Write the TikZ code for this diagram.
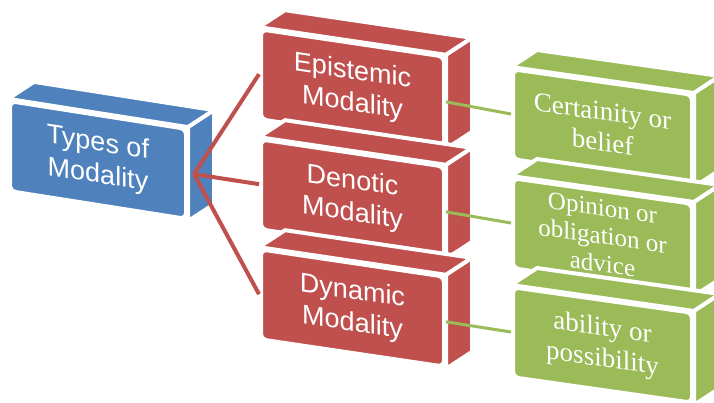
\documentclass[tikz,border=0pt]{standalone}
\usepackage{fontspec}
\setmainfont{Liberation Sans}
\newfontfamily\greenserif{Liberation Serif}
\definecolor{modblue}{RGB}{79,129,189}
\definecolor{modred}{RGB}{192,80,77}
\definecolor{modgreen}{RGB}{155,187,89}
\begin{document}
\begin{tikzpicture}[x=1pt, y=-1pt,
    face/.style={draw=white, line width=4pt, line join=round},
    front/.style={rectangle, face, rounded corners=6pt, inner sep=0pt, minimum height=90pt,
      align=center, text=white, font=\fontsize{27}{32}\selectfont},
    typebox/.style={front, fill=modblue, minimum width=176pt, yslant=-0.157},
    modbox/.style={front, fill=modred, minimum width=183pt, yslant=-0.148},
    usebox/.style={front, fill=modgreen, minimum width=179pt, yslant=-0.142,
      font=\greenserif\fontsize{27}{31}\selectfont},
    redline/.style={draw=modred, line width=4pt},
    greenline/.style={draw=modgreen, line width=3pt}]
  \useasboundingbox (0,0) rectangle (714,402);

  % front faces
  \node[typebox] (types) at (98,160) {Types of\\Modality};
  \node[modbox] (epi) at (352.5,88) {Epistemic\\Modality};
  \node[modbox] (deno) at (352.5,198) {Denotic\\Modality};
  \node[modbox] (dyna) at (352.5,308) {Dynamic\\Modality};
  \node[usebox] (cert) at (602.5,127) {Certainity or\\belief};
  \node[usebox, font=\greenserif\fontsize{25}{28}\selectfont] (opin) at (602.5,236)
    {Opinion or\\obligation or\\advice};
  \node[usebox] (abil) at (602.5,345) {ability or\\possibility};

  % top and side faces
  \foreach \n/\c in {types/modblue, epi/modred, deno/modred, dyna/modred,
                     cert/modgreen, opin/modgreen, abil/modgreen}
    {\filldraw[face, fill=\c] (\n.north west) -- (\n.north east)
        -- ([shift={(26,-17)}]\n.north east) -- ([shift={(26,-17)}]\n.north west) -- cycle;
     \filldraw[face, fill=\c] (\n.north east) -- (\n.south east)
        -- ([shift={(26,-17)}]\n.south east) -- ([shift={(26,-17)}]\n.north east) -- cycle;
    }

  % connectors
  \foreach \m in {epi, deno, dyna}
    \draw[redline] ([xshift=6pt]types.east) -- (\m.west);
  \draw[greenline] (epi.east) -- (cert.west);
  \draw[greenline] (deno.east) -- (opin.west);
  \draw[greenline] (dyna.east) -- (abil.west);
\end{tikzpicture}
\end{document}
